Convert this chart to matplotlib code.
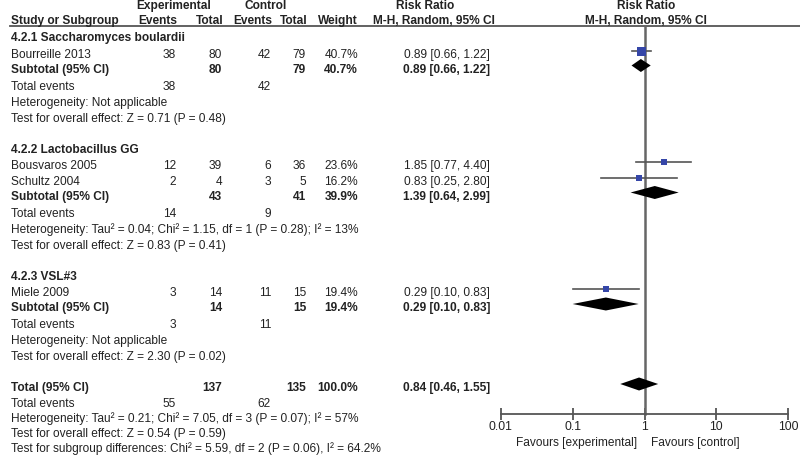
import matplotlib
matplotlib.use("Agg")
import matplotlib.pyplot as plt
import numpy as np

plt.rcParams['font.family'] = ['Liberation Sans', 'DejaVu Sans']

# ---- dane ----
grupy = ['4.2.1 Saccharomyces boulardii', '4.2.2 Lactobacillus GG', '4.2.3 VSL#3']
badania = [['Bourreille 2013'], ['Bousvaros 2005', 'Schultz 2004'], ['Miele 2009']]
exp_zd = [[38], [12, 2], [3]]
exp_n = [[80], [39, 4], [14]]
kon_zd = [[42], [6, 3], [11]]
kon_n = [[79], [36, 5], [15]]
wagi = [[40.7], [23.6, 16.2], [19.4]]
rr = [[0.89], [1.85, 0.83], [0.29]]
rr_lo = [[0.66], [0.77, 0.25], [0.10]]
rr_hi = [[1.22], [4.40, 2.80], [0.83]]

sub_exp_n = [80, 43, 14]
sub_kon_n = [79, 41, 15]
sub_waga = [40.7, 39.9, 19.4]
sub_rr = [0.89, 1.39, 0.29]
sub_lo = [0.66, 0.64, 0.10]
sub_hi = [1.22, 2.99, 0.83]
sub_exp_zd = [38, 14, 3]
sub_kon_zd = [42, 9, 11]
sub_het = ['Heterogeneity: Not applicable',
           'Heterogeneity: Tau\u00b2 = 0.04; Chi\u00b2 = 1.15, df = 1 (P = 0.28); I\u00b2 = 13%',
           'Heterogeneity: Not applicable']
sub_test = ['Test for overall effect: Z = 0.71 (P = 0.48)',
            'Test for overall effect: Z = 0.83 (P = 0.41)',
            'Test for overall effect: Z = 2.30 (P = 0.02)']

tot_exp_n, tot_kon_n, tot_waga = 137, 135, 100.0
tot_rr, tot_lo, tot_hi = 0.84, 0.46, 1.55
tot_exp_zd, tot_kon_zd = 55, 62
tot_linie = ['Heterogeneity: Tau\u00b2 = 0.21; Chi\u00b2 = 7.05, df = 3 (P = 0.07); I\u00b2 = 57%',
             'Test for overall effect: Z = 0.54 (P = 0.59)',
             'Test for subgroup differences: Chi\u00b2 = 5.59, df = 2 (P = 0.06), I\u00b2 = 64.2%']

os_ticks = [0.01, 0.1, 1, 10, 100]
os_labels = ['0.01', '0.1', '1', '10', '100']

# ---- rysunek ----
fig = plt.figure(figsize=(8, 4.55), dpi=100)
ax = fig.add_axes([0, 0, 1, 1])
ax.set_xlim(0, 800)
ax.set_ylim(455, 0)
ax.axis('off')

x0, x1 = 500.7, 788.3
fa = fig.add_axes([x0 / 800, 0, (x1 - x0) / 800, 1])
fa.set_xscale('log')
fa.set_xlim(0.01, 100)
fa.set_ylim(455, 0)
fa.patch.set_alpha(0)
for s in ['top', 'left', 'right']:
    fa.spines[s].set_visible(False)
fa.spines['bottom'].set_position(('data', 414))
fa.spines['bottom'].set_color('#555555')
fa.spines['bottom'].set_linewidth(1.3)
fa.set_yticks([])
fa.set_xticks(os_ticks)
fa.set_xticklabels(os_labels)
fa.minorticks_off()
fa.tick_params(axis='x', direction='inout', length=8, width=1.3, color='#555555',
               labelsize=8.8, pad=1, labelcolor='#222222')

FS = 8.6
KOL = '#222222'
cx_ev1, cx_n1, cx_ev2, cx_n2, cx_w, cx_ci = 176, 222, 271, 306, 358, 490


def tekst(x, y, s, ha='left', bold=False):
    # wyrownanie do linii bazowej, zeby wiersze sie nie rozjezdzaly
    ax.text(x, y + 4.3, s, ha=ha, va='baseline', fontsize=FS, color=KOL,
            fontweight='bold' if bold else 'normal')


def romb(y, r, lo, hi):
    fa.fill([lo, r, hi, r], [y, y - 6.5, y, y + 6.5], color='black', lw=0, zorder=4)


# naglowki
tekst(174, 5, 'Experimental', ha='center', bold=True)
tekst(266, 5, 'Control', ha='center', bold=True)
tekst(425, 5, 'Risk Ratio', ha='center', bold=True)
tekst(646, 5, 'Risk Ratio', ha='center', bold=True)
tekst(11, 20, 'Study or Subgroup', bold=True)
tekst(cx_ev1 + 1, 20, 'Events', ha='right', bold=True)
tekst(cx_n1 + 1, 20, 'Total', ha='right', bold=True)
tekst(cx_ev2 + 1, 20, 'Events', ha='right', bold=True)
tekst(cx_n2 + 1, 20, 'Total', ha='right', bold=True)
tekst(cx_w, 20, 'Weight', ha='right', bold=True)
tekst(373, 20, 'M-H, Random, 95% CI', bold=True)
tekst(646, 20, 'M-H, Random, 95% CI', ha='center', bold=True)
ax.plot([10, 800], [25.5, 25.5], color='#555555', lw=1.3)

fa.plot([1, 1], [25.5, 414], color='#666666', lw=1.8, zorder=2)

y = 37
for g in range(len(grupy)):
    tekst(11, y, grupy[g], bold=True)
    y += 16.5
    for i in range(len(badania[g])):
        tekst(11, y, badania[g][i])
        tekst(cx_ev1, y, str(exp_zd[g][i]), ha='right')
        tekst(cx_n1, y, str(exp_n[g][i]), ha='right')
        tekst(cx_ev2, y, str(kon_zd[g][i]), ha='right')
        tekst(cx_n2, y, str(kon_n[g][i]), ha='right')
        tekst(cx_w, y, '%.1f%%' % wagi[g][i], ha='right')
        tekst(cx_ci, y, '%.2f [%.2f, %.2f]' % (rr[g][i], rr_lo[g][i], rr_hi[g][i]), ha='right')
        fa.plot([rr_lo[g][i], rr_hi[g][i]], [y - 3, y - 3], color='#555555', lw=1.2, zorder=3)
        bok = 9 * np.sqrt(wagi[g][i] / 40.7)
        fa.plot(rr[g][i], y - 3, 's', ms=bok * 0.72, color='#3546a8', mew=0, zorder=5)
        y += 15.5
    y -= 0.5
    tekst(11, y, 'Subtotal (95% CI)', bold=True)
    tekst(cx_n1, y, str(sub_exp_n[g]), ha='right', bold=True)
    tekst(cx_n2, y, str(sub_kon_n[g]), ha='right', bold=True)
    tekst(cx_w, y, '%.1f%%' % sub_waga[g], ha='right', bold=True)
    tekst(cx_ci, y, '%.2f [%.2f, %.2f]' % (sub_rr[g], sub_lo[g], sub_hi[g]), ha='right', bold=True)
    romb(y - 3, sub_rr[g], sub_lo[g], sub_hi[g])
    y += 17
    tekst(11, y, 'Total events')
    tekst(cx_ev1, y, str(sub_exp_zd[g]), ha='right')
    tekst(cx_ev2, y, str(sub_kon_zd[g]), ha='right')
    y += 16
    tekst(11, y, sub_het[g])
    y += 16
    tekst(11, y, sub_test[g])
    y += 31

tekst(11, y, 'Total (95% CI)', bold=True)
tekst(cx_n1, y, str(tot_exp_n), ha='right', bold=True)
tekst(cx_n2, y, str(tot_kon_n), ha='right', bold=True)
tekst(cx_w, y, '%.1f%%' % tot_waga, ha='right', bold=True)
tekst(cx_ci, y, '%.2f [%.2f, %.2f]' % (tot_rr, tot_lo, tot_hi), ha='right', bold=True)
romb(y - 3, tot_rr, tot_lo, tot_hi)
y += 16
tekst(11, y, 'Total events')
tekst(cx_ev1, y, str(tot_exp_zd), ha='right')
tekst(cx_ev2, y, str(tot_kon_zd), ha='right')
for linia in tot_linie:
    y += 15
    tekst(11, y, linia)

tekst(637, 442, 'Favours [experimental]', ha='right')
tekst(651, 442, 'Favours [control]')

fig.savefig('out.png', dpi=100)
